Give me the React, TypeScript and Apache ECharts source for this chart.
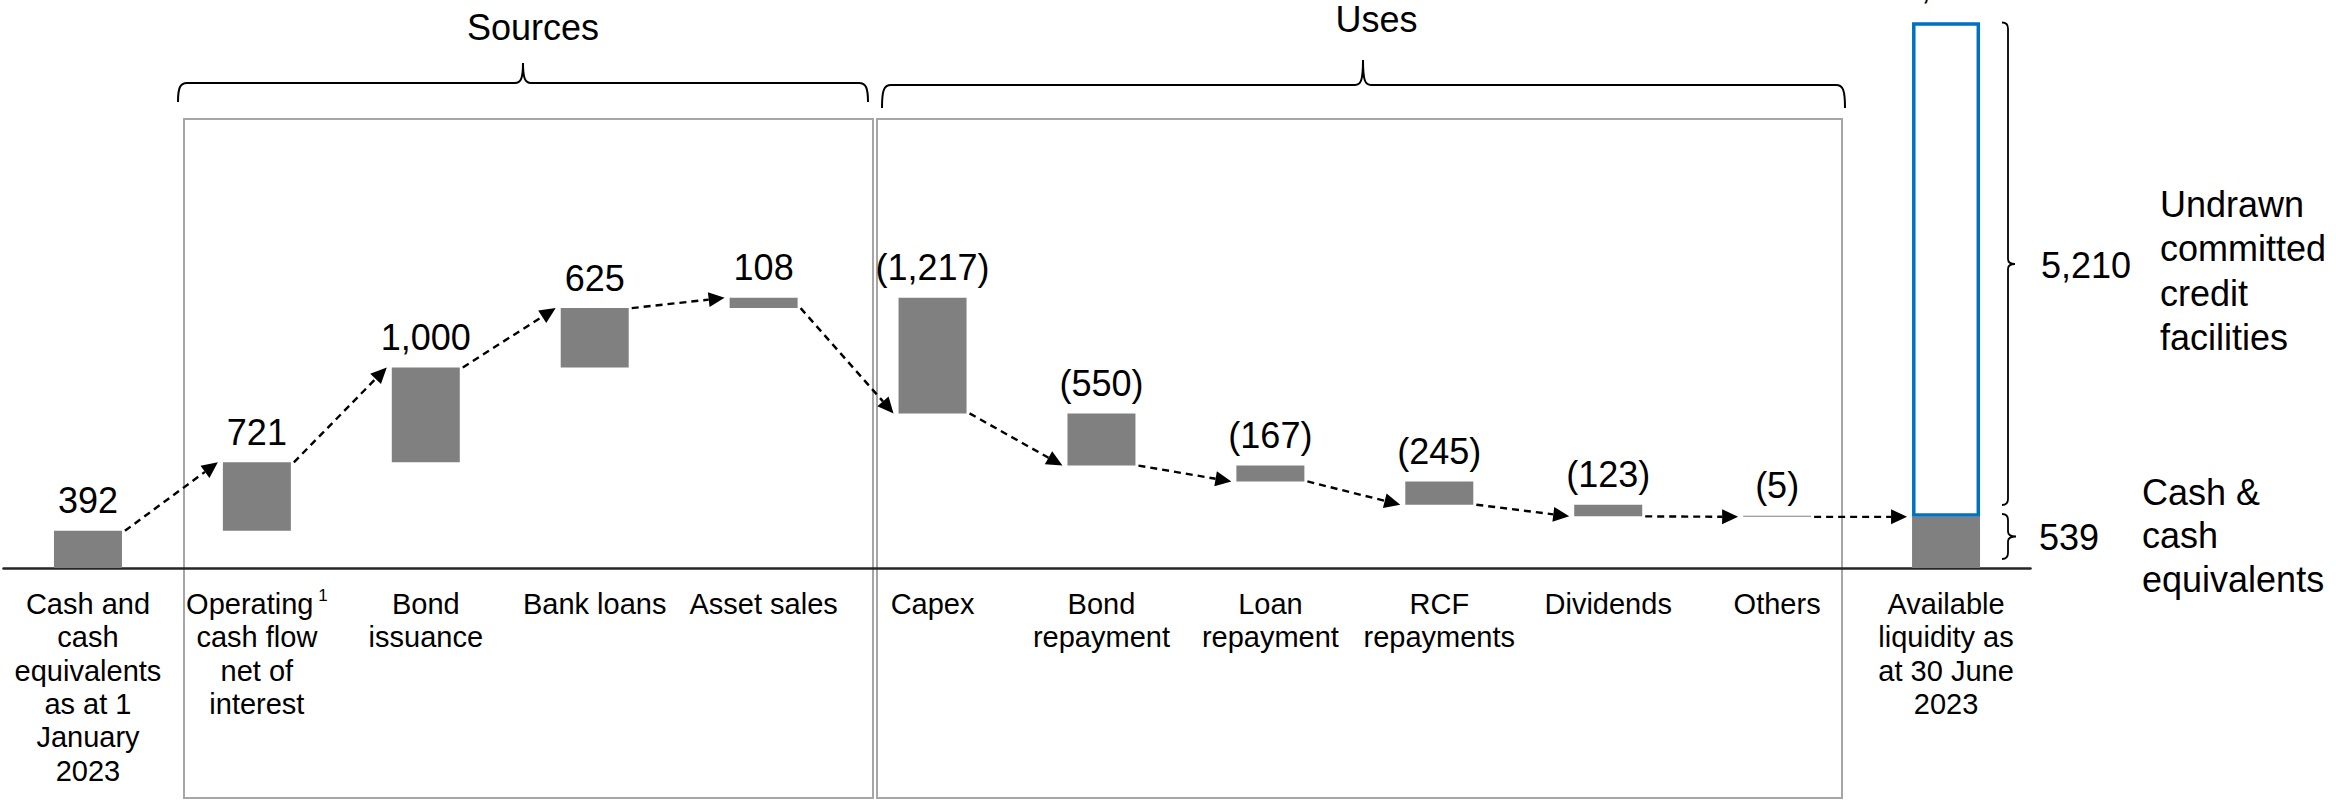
import React, { useEffect, useRef } from "react";
import * as echarts from "echarts";

// ---------------- data ----------------
const categories = [
  "Cash and\ncash\nequivalents\nas at 1\nJanuary\n2023",
  "Operating{sup| 1}\ncash flow\nnet of\ninterest",
  "Bond\nissuance",
  "Bank loans",
  "Asset sales",
  "Capex",
  "Bond\nrepayment",
  "Loan\nrepayment",
  "RCF\nrepayments",
  "Dividends",
  "Others",
  "Available\nliquidity as\nat 30 June\n2023",
];
const stepValues = [392, 721, 1000, 625, 108, -1217, -550, -167, -245, -123, -5, 539];
const stepKinds = [
  "total", "delta", "delta", "delta", "delta", "delta",
  "delta", "delta", "delta", "delta", "delta", "total",
];
const undrawnFacilities = 5210;
const groupTitles = ["Sources", "Uses"];
const undrawnText = "Undrawn\ncommitted\ncredit\nfacilities";
const cashText = "Cash &\ncash\nequivalents";

// ---------------- derived ----------------
const fmt = (v: number) =>
  v < 0 ? `(${Math.abs(v).toLocaleString("en-US")})` : v.toLocaleString("en-US");

const baseVals: number[] = [];
const barVals: number[] = [];
const cum: number[] = [];
{
  let run = 0;
  stepValues.forEach((v, i) => {
    if (stepKinds[i] === "total") {
      baseVals.push(0);
      barVals.push(v);
      run = v;
    } else {
      const next = run + v;
      baseVals.push(Math.min(run, next));
      barVals.push(Math.abs(v));
      run = next;
    }
    cum.push(run);
  });
}
const lastIdx = stepValues.length - 1;
const undrawnVals = stepValues.map((_, i) => (i === lastIdx ? undrawnFacilities : null));

const arrowData: number[][] = [];
for (let i = 0; i < stepValues.length - 1; i++) {
  const nextRising = stepKinds[i + 1] === "delta" && stepValues[i + 1] > 0;
  const lo = baseVals[i];
  const hi = baseVals[i] + barVals[i];
  arrowData.push([i, nextRising ? hi : lo, cum[i + 1]]);
}

// ---------------- styles ----------------
const FONT = '"Liberation Sans", Arial, sans-serif';
const BAR_W = 68;
const GRAY = "#808080";
const BLUE = "#0070C0";
const BOX = "#A6A6A6";

const bracePath = (xl: number, xr: number, xm: number, yLine: number, yEnd: number, yTip: number) =>
  `M${xl},${yEnd} C${xl},${yLine + 5} ${xl + 2},${yLine} ${xl + 9},${yLine} ` +
  `L${xm - 8},${yLine} C${xm - 2},${yLine} ${xm},${yLine - 5} ${xm},${yTip} ` +
  `C${xm},${yLine - 5} ${xm + 2},${yLine} ${xm + 8},${yLine} ` +
  `L${xr - 9},${yLine} C${xr - 2},${yLine} ${xr},${yLine + 5} ${xr},${yEnd}`;

const bracketPath = (x: number, yt: number, yb: number, ym: number, tick: number, hook: number) =>
  `M${x - hook},${yt} Q${x},${yt} ${x},${yt + hook} L${x},${ym - 5} ` +
  `Q${x},${ym} ${x + tick},${ym} Q${x},${ym} ${x},${ym + 5} ` +
  `L${x},${yb - hook} Q${x},${yb} ${x - hook},${yb}`;

echarts.graphic.registerShape(
  "braceSources",
  echarts.graphic.extendPath(bracePath(178, 868, 523, 83, 102, 63), {})
);
echarts.graphic.registerShape(
  "braceUses",
  echarts.graphic.extendPath(bracePath(882, 1845, 1363, 85, 108, 60), {})
);
echarts.graphic.registerShape(
  "bracketBig",
  echarts.graphic.extendPath(bracketPath(2008, 22.5, 505, 264, 7, 6), {})
);
echarts.graphic.registerShape(
  "bracketSmall",
  echarts.graphic.extendPath(bracketPath(2008, 514, 559, 536.5, 8, 6), {})
);

export default function App() {
  const ref = useRef<HTMLDivElement>(null);

  useEffect(() => {
    if (!ref.current) return;
    const chart = echarts.init(ref.current, null, { renderer: "svg" });
    const lineStroke = { fill: "none", stroke: "#000", lineWidth: 2 };

    chart.setOption({
      animation: false,
      grid: { left: 3.5, right: 305.5, top: 8, bottom: 235, containLabel: false },
      xAxis: {
        type: "category",
        data: categories,
        axisTick: { show: false },
        axisLine: { lineStyle: { color: "#262626", width: 2.5 } },
        axisLabel: {
          interval: 0,
          margin: 19,
          color: "#000",
          fontSize: 29,
          lineHeight: 33.4,
          fontFamily: FONT,
          rich: {
            sup: { fontSize: 17, lineHeight: 26, verticalAlign: "top", color: "#000", fontFamily: FONT },
          },
        },
      },
      yAxis: {
        type: "value",
        min: 0,
        max: 5900,
        show: false,
        splitLine: { show: false },
      },
      series: [
        {
          type: "bar",
          stack: "wf",
          data: baseVals,
          barWidth: BAR_W,
          itemStyle: { color: "rgba(0,0,0,0)" },
          silent: true,
          emphasis: { disabled: true },
        },
        {
          type: "bar",
          stack: "wf",
          data: barVals,
          barWidth: BAR_W,
          barMinHeight: 1,
          itemStyle: { color: GRAY },
          silent: true,
          emphasis: { disabled: true },
          label: {
            show: true,
            position: "top",
            distance: 12,
            fontSize: 36,
            lineHeight: 36,
            fontFamily: FONT,
            color: "#000",
            formatter: (p: any) => (stepKinds[p.dataIndex] === "total" && p.dataIndex === lastIdx ? "" : fmt(stepValues[p.dataIndex])),
          },
        },
        {
          type: "bar",
          stack: "wf",
          data: undrawnVals,
          barWidth: BAR_W,
          itemStyle: { color: "rgba(0,0,0,0)", borderColor: BLUE, borderWidth: 3.5 },
          silent: true,
          emphasis: { disabled: true },
          label: {
            show: true,
            position: "top",
            distance: 18,
            fontSize: 36,
            lineHeight: 36,
            fontFamily: FONT,
            color: "#000",
            formatter: () => fmt(cum[lastIdx] + undrawnFacilities),
          },
        },
        {
          type: "custom",
          coordinateSystem: "cartesian2d",
          data: arrowData,
          encode: { x: 0, y: [1, 2] },
          silent: true,
          z: 5,
          renderItem: (_params: any, api: any) => {
            const i = api.value(0);
            const a = api.coord([i, api.value(1)]);
            const b = api.coord([i + 1, api.value(2)]);
            const x0 = a[0] + BAR_W / 2 + 3;
            const y0 = a[1];
            const x1 = b[0] - BAR_W / 2 - 5;
            const y1 = b[1];
            const dx = x1 - x0;
            const dy = y1 - y0;
            const len = Math.hypot(dx, dy) || 1;
            const ux = dx / len;
            const uy = dy / len;
            const headL = 16;
            const headW = 7.5;
            const bx = x1 - ux * headL;
            const by = y1 - uy * headL;
            const nx = -uy;
            const ny = ux;
            return {
              type: "group",
              children: [
                {
                  type: "line",
                  shape: { x1: x0, y1: y0, x2: bx, y2: by },
                  style: { stroke: "#000", lineWidth: 2.4, lineDash: [7, 5], fill: null },
                },
                {
                  type: "polygon",
                  shape: {
                    points: [
                      [x1, y1],
                      [bx + nx * headW, by + ny * headW],
                      [bx - nx * headW, by - ny * headW],
                    ],
                  },
                  style: { fill: "#000" },
                },
              ],
            };
          },
        },
      ],
      graphic: [
        { type: "rect", z: 0, shape: { x: 184, y: 119, width: 689, height: 679 }, style: { fill: "none", stroke: BOX, lineWidth: 2 } },
        { type: "rect", z: 0, shape: { x: 877, y: 119, width: 965, height: 679 }, style: { fill: "none", stroke: BOX, lineWidth: 2 } },
        { type: "braceSources", x: 0, y: 0, style: lineStroke },
        { type: "braceUses", x: 0, y: 0, style: lineStroke },
        { type: "bracketBig", x: 0, y: 0, style: { ...lineStroke, lineWidth: 1.8 } },
        { type: "bracketSmall", x: 0, y: 0, style: { ...lineStroke, lineWidth: 1.8 } },
        {
          type: "text", x: 533, y: 27.5,
          style: { text: groupTitles[0], fontSize: 36, fontFamily: FONT, fill: "#000", align: "center", verticalAlign: "middle" },
        },
        {
          type: "text", x: 1376.5, y: 19,
          style: { text: groupTitles[1], fontSize: 36, fontFamily: FONT, fill: "#000", align: "center", verticalAlign: "middle" },
        },
        {
          type: "text", x: 2041, y: 265.5,
          style: { text: fmt(undrawnFacilities), fontSize: 36, fontFamily: FONT, fill: "#000", align: "left", verticalAlign: "middle" },
        },
        {
          type: "text", x: 2039, y: 537.5,
          style: { text: fmt(stepValues[lastIdx]), fontSize: 36, fontFamily: FONT, fill: "#000", align: "left", verticalAlign: "middle" },
        },
        {
          type: "text", x: 2160, y: 182,
          style: { text: undrawnText, fontSize: 36, lineHeight: 44.4, fontFamily: FONT, fill: "#000", align: "left", verticalAlign: "top" },
        },
        {
          type: "text", x: 2142, y: 470.5,
          style: { text: cashText, fontSize: 36, lineHeight: 43.5, fontFamily: FONT, fill: "#000", align: "left", verticalAlign: "top" },
        },
      ],
    });

    return () => chart.dispose();
  }, []);

  return (
    <div
      ref={ref}
      style={{ position: "absolute", left: 0, top: 0, width: 2336, height: 803, background: "#fff" }}
    />
  );
}
